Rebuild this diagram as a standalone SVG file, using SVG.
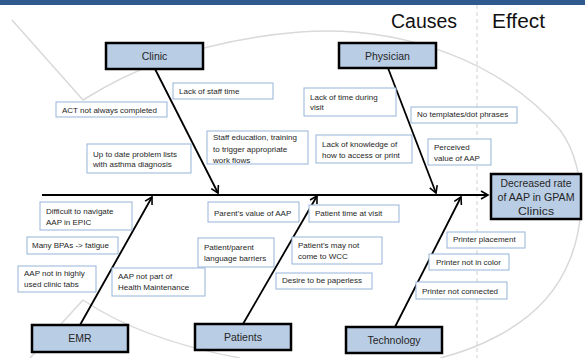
<svg xmlns="http://www.w3.org/2000/svg" width="585" height="358" viewBox="0 0 585 358">
<defs>
<marker id="ah" markerWidth="10" markerHeight="10" refX="8" refY="5" orient="auto" markerUnits="userSpaceOnUse">
<path d="M1,1 L8,5 L1,9" fill="none" stroke="#000" stroke-width="1.6"/>
</marker>
<style>
.bg{fill:none;stroke:#d9d9d9;stroke-width:1.5}
.cat rect{fill:#b9cde5;stroke:#000;stroke-width:2.5}
.cat text{font-family:"Liberation Sans",Arial,sans-serif;font-size:10.5px;fill:#262626;text-anchor:middle}
.c rect{fill:#fff;stroke:#95b3d7;stroke-width:1}
.c text{font-family:"Liberation Sans",Arial,sans-serif;font-size:8px;fill:#262626}
.bone{stroke:#000;stroke-width:1.8;fill:none}
.hd{font-family:"Liberation Sans",Arial,sans-serif;font-size:20px;fill:#111}
.ef{font-size:13px}
</style>
</defs>
<rect x="0" y="0" width="585" height="5" fill="#2e5a8e"/>
<g id="background">
<path class="bg" d="M12,20 L83,100 C130,70 200,40 300,32 C400,25 500,60 560,130 C590,170 590,250 545,300 C520,328 480,348 440,358"/>
<path class="bg" d="M30,358 L83,300 C120,325 170,345 240,358"/>
<line x1="477" y1="5" x2="477" y2="358" stroke="#d0d0d0" stroke-width="1" stroke-dasharray="4,3"/>
</g>
<text class="hd" x="391" y="28" textLength="66" lengthAdjust="spacingAndGlyphs" font-size="21px">Causes</text>
<text class="hd" x="492" y="28" textLength="53" lengthAdjust="spacingAndGlyphs" font-size="21px">Effect</text>
<g id="connectors">
<line class="bone" x1="42" y1="195" x2="488" y2="195" marker-end="url(#ah)"/>
<line class="bone" x1="155" y1="69" x2="218" y2="193" marker-end="url(#ah)"/>
<line class="bone" x1="388" y1="68" x2="436" y2="193" marker-end="url(#ah)"/>
<line class="bone" x1="80" y1="325" x2="152" y2="197" marker-end="url(#ah)"/>
<line class="bone" x1="243" y1="324" x2="317" y2="196" marker-end="url(#ah)"/>
<line class="bone" x1="395" y1="327" x2="461" y2="197" marker-end="url(#ah)"/>
</g>
<g id="clinic" class="cat"><rect x="106" y="43" width="97" height="26"/><text x="154.5" y="60">Clinic</text></g>
<g id="physician" class="cat"><rect x="339" y="43" width="97" height="25"/><text x="387.5" y="59.5">Physician</text></g>
<g id="emr" class="cat"><rect x="32" y="325" width="96" height="27"/><text x="80" y="342">EMR</text></g>
<g id="patients" class="cat"><rect x="195" y="324" width="96" height="26"/><text x="243" y="341">Patients</text></g>
<g id="technology" class="cat"><rect x="346" y="327" width="96" height="26"/><text x="394" y="344">Technology</text></g>
<g id="effect" class="cat"><rect x="491" y="174" width="90" height="45"/>
<text class="ef" x="536" y="187" textLength="71" lengthAdjust="spacingAndGlyphs">Decreased rate</text>
<text class="ef" x="536" y="201" textLength="77" lengthAdjust="spacingAndGlyphs">of AAP in GPAM</text>
<text class="ef" x="536" y="215" textLength="36" lengthAdjust="spacingAndGlyphs">Clinics</text></g>
<g id="c1" class="c"><rect x="173" y="83" width="100" height="16"/><text x="179" y="94">Lack of staff time</text></g>
<g id="c2" class="c"><rect x="56" y="102" width="111" height="15"/><text x="62" y="113">ACT not always completed</text></g>
<g id="c3" class="c"><rect x="87" y="144" width="104" height="29"/><text x="93" y="157">Up to date problem lists</text><text x="93" y="167">with asthma diagnosis</text></g>
<g id="c4" class="c"><rect x="207" y="131" width="101" height="33"/><text x="213" y="140">Staff education, training</text><text x="213" y="152">to trigger appropriate</text><text x="213" y="163">work flows</text></g>
<g id="c5" class="c"><rect x="304" y="88" width="92" height="28"/><text x="310" y="100">Lack of time during</text><text x="310" y="110">visit</text></g>
<g id="c6" class="c"><rect x="411" y="107" width="106" height="16"/><text x="417" y="117">No templates/dot phrases</text></g>
<g id="c7" class="c"><rect x="316" y="135" width="96" height="28"/><text x="322" y="147">Lack of knowledge of</text><text x="322" y="158">how to access or print</text></g>
<g id="c8" class="c"><rect x="428" y="139" width="63" height="26"/><text x="434" y="150">Perceived</text><text x="434" y="161">value of AAP</text></g>
<g id="c9" class="c"><rect x="40" y="202" width="92" height="28"/><text x="46" y="214">Difficult to navigate</text><text x="46" y="225">AAP in EPIC</text></g>
<g id="c10" class="c"><rect x="27" y="237" width="91" height="17"/><text x="32" y="248">Many BPAs -&gt; fatigue</text></g>
<g id="c11" class="c"><rect x="18" y="266" width="78" height="26"/><text x="24" y="276">AAP not in highly</text><text x="24" y="287">used clinic tabs</text></g>
<g id="c12" class="c"><rect x="112" y="268" width="93" height="28"/><text x="118" y="279">AAP not part of</text><text x="118" y="290">Health Maintenance</text></g>
<g id="c13" class="c"><rect x="208" y="202" width="91" height="20"/><text x="214" y="216">Parent’s value of AAP</text></g>
<g id="c14" class="c"><rect x="198" y="238" width="76" height="29"/><text x="204" y="250">Patient/parent</text><text x="204" y="261">language barriers</text></g>
<g id="c15" class="c"><rect x="309" y="205" width="90" height="17"/><text x="315" y="216">Patient time at visit</text></g>
<g id="c16" class="c"><rect x="292" y="237" width="90" height="27"/><text x="298" y="248">Patient’s may not</text><text x="298" y="259">come to WCC</text></g>
<g id="c17" class="c"><rect x="276" y="273" width="96" height="16"/><text x="282" y="283">Desire to be paperless</text></g>
<g id="c18" class="c"><rect x="447" y="232" width="78" height="16"/><text x="453" y="242">Printer placement</text></g>
<g id="c19" class="c"><rect x="429" y="254" width="80" height="16"/><text x="436" y="265">Printer not in color</text></g>
<g id="c20" class="c"><rect x="416" y="282" width="91" height="17"/><text x="422" y="294">Printer not connected</text></g>
</svg>
